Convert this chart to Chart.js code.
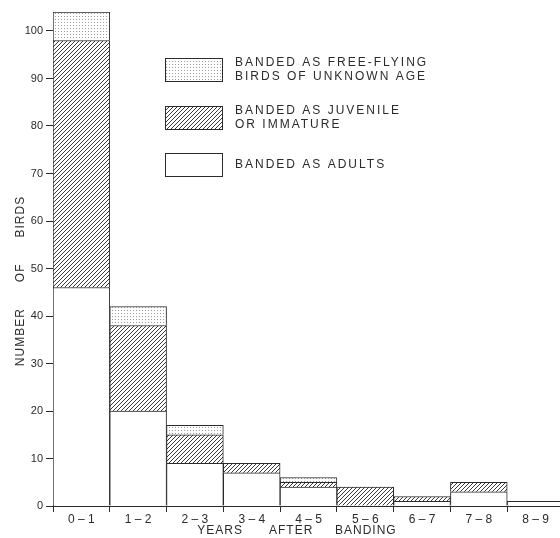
<!DOCTYPE html>
<html>
<head>
<meta charset="utf-8">
<script src="https://cdn.jsdelivr.net/npm/chart.js@4"></script>
<style>
    body { margin: 0; background: #fff; overflow: hidden; }
    #wrap { width: 566px; height: 538px; }
</style>
</head>
<body>
<div id="wrap"><canvas id="birds" width="566" height="538"></canvas></div>
<script>
const categories = ['0 – 1', '1 – 2', '2 – 3', '3 – 4', '4 – 5', '5 – 6', '6 – 7', '7 – 8', '8 – 9'];
const adults = [46, 20, 9, 7, 4, 0, 1, 3, 1];
const juvenile = [52, 18, 6, 2, 1, 4, 1, 2, 0];
const unknownAge = [6, 4, 2, 0, 1, 0, 0, 0, 0];
const seriesNames = ['Banded as adults', 'Banded as juvenile or immature', 'Banded as free-flying birds of unknown age'];
const legendLines = [
    ['BANDED AS FREE-FLYING', 'BIRDS OF UNKNOWN AGE'],
    ['BANDED AS JUVENILE', 'OR IMMATURE'],
    ['BANDED AS ADULTS']
];
const xTitle = 'YEARS      AFTER     BANDING';
const yTitle = 'NUMBER      OF      BIRDS';

const ink = '#2b2b2b';
const font = 'Liberation Sans, Arial, Helvetica, sans-serif';

function makeHatch() {
    const c = document.createElement('canvas');
    c.width = 4; c.height = 4;
    const g = c.getContext('2d');
    g.fillStyle = '#fff';
    g.fillRect(0, 0, 4, 4);
    g.strokeStyle = '#3a3a3a';
    g.lineWidth = 1;
    g.beginPath();
    g.moveTo(-1, 5); g.lineTo(5, -1);
    g.moveTo(-1, 1); g.lineTo(1, -1);
    g.moveTo(3, 5); g.lineTo(5, 3);
    g.stroke();
    return g.createPattern(c, 'repeat');
}

function makeDots() {
    const c = document.createElement('canvas');
    c.width = 3; c.height = 3;
    const g = c.getContext('2d');
    g.fillStyle = '#fff';
    g.fillRect(0, 0, 3, 3);
    g.fillStyle = '#9a9a9a';
    g.fillRect(1, 1, 1, 1);
    return g.createPattern(c, 'repeat');
}

const hatch = makeHatch();
const dots = makeDots();
const fills = ['#fff', hatch, dots];

// legend and axis titles drawn by hand (letter-spaced, odd placement)
const paperPlugin = {
    id: 'paper',
    afterDraw(chart) {
        const ctx = chart.ctx;
        ctx.save();
        ctx.fillStyle = ink;
        ctx.font = '12px ' + font;
        ctx.textBaseline = 'middle';
        ctx.letterSpacing = '2px';

        const boxTops = [58, 106, 153];
        const legendFills = [dots, hatch, '#fff'];
        for (let i = 0; i < legendLines.length; i++) {
            ctx.fillStyle = legendFills[i];
            ctx.fillRect(165, boxTops[i], 57, 23);
            ctx.strokeStyle = ink;
            ctx.lineWidth = 1;
            ctx.strokeRect(165.5, boxTops[i] + 0.5, 57, 23);
            ctx.fillStyle = ink;
            const lines = legendLines[i];
            const mid = boxTops[i] + 11.5;
            for (let j = 0; j < lines.length; j++) {
                const y = mid + (j - (lines.length - 1) / 2) * 14;
                ctx.textAlign = 'left';
                ctx.fillText(lines[j], 235, y);
            }
        }

        ctx.letterSpacing = '1px';
        ctx.textAlign = 'center';
        ctx.fillText(xTitle, 297, 531);

        ctx.translate(21, 281);
        ctx.rotate(-Math.PI / 2);
        ctx.fillText(yTitle, 0, 0);
        ctx.restore();
    }
};

const ctx = document.getElementById('birds').getContext('2d');
const myChart = new Chart(ctx, {
    type: 'bar',
    data: {
        labels: categories,
        datasets: [adults, juvenile, unknownAge].map((d, i) => ({
            label: seriesNames[i],
            data: d,
            backgroundColor: fills[i],
            borderColor: ink,
            borderWidth: 1,
            barPercentage: 1,
            categoryPercentage: 1
        }))
    },
    options: {
        responsive: false,
        animation: false,
        layout: { padding: { top: 12, right: 2, bottom: 0, left: 0 } },
        plugins: {
            legend: { display: false },
            tooltip: { enabled: false }
        },
        scales: {
            x: {
                stacked: true,
                afterFit: (s) => { s.height = 32; },
                border: { display: true, color: ink, width: 1 },
                grid: { drawOnChartArea: false, drawTicks: true, tickLength: 6, color: ink },
                ticks: { color: ink, padding: 0, font: { family: font, size: 12 } }
            },
            y: {
                stacked: true,
                min: 0,
                max: 104,
                afterFit: (s) => { s.width = 53; },
                border: { display: true, color: ink, width: 1 },
                grid: { drawOnChartArea: false, drawTicks: true, tickLength: 7, color: ink },
                ticks: {
                    stepSize: 10,
                    includeBounds: false,
                    color: ink,
                    padding: 3,
                    font: { family: font, size: 11 }
                }
            }
        }
    },
    plugins: [paperPlugin]
});
</script>
</body>
</html>
